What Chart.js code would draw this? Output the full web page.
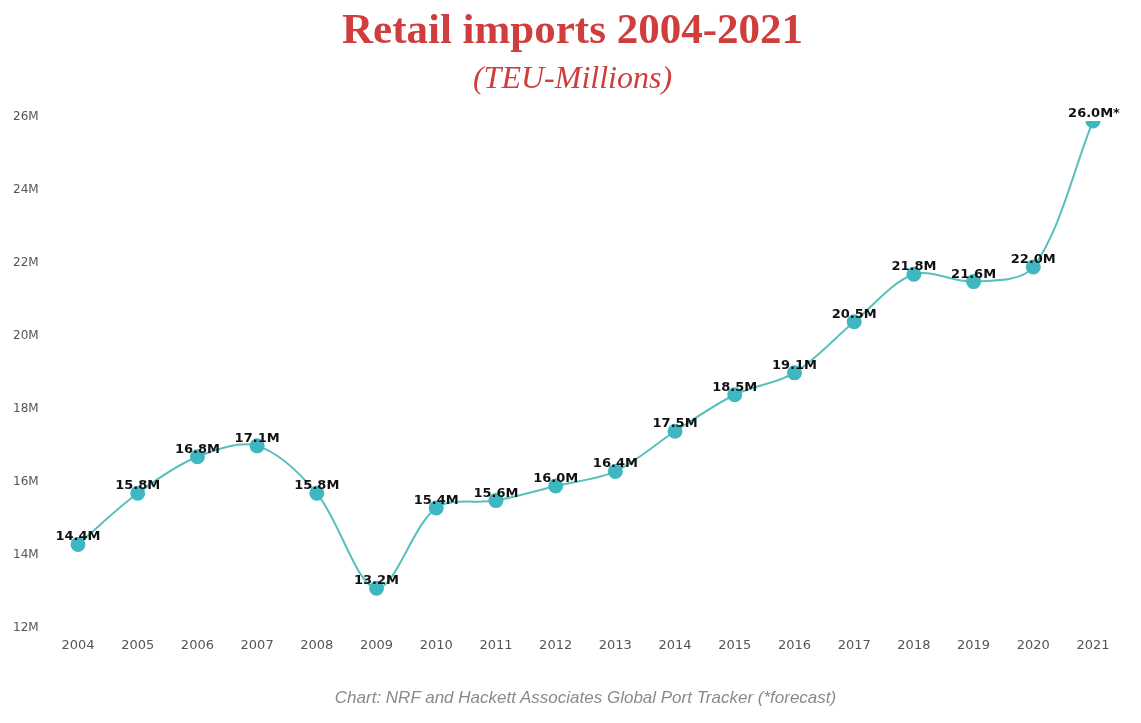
<!DOCTYPE html>
<html>
<head>
<meta charset="utf-8">
<script src="https://cdn.jsdelivr.net/npm/chart.js@4/dist/chart.umd.min.js"></script>
<style>
  html, body { margin: 0; padding: 0; background: #ffffff; }
  #wrap { position: relative; width: 1141px; height: 723px; overflow: hidden; }
  #c { position: absolute; left: 0; top: 0; }
  .t { position: absolute; left: 0; width: 1141px; text-align: center; white-space: nowrap; }
  #title { top: 7px; font: bold 43px/43px "Liberation Serif", "DejaVu Serif", serif; color: #cf3d3d; left: 2px; }
  #subtitle { top: 61px; font: italic 32px/32px "Liberation Serif", "DejaVu Serif", serif; color: #cf3d3d; left: 2px; }
  #footer { top: 689px; font: italic 17px/17px "Liberation Sans", Arial, sans-serif; color: #8a8a8a; left: 15px; }
</style>
</head>
<body>
<div id="wrap">
  <canvas id="c" width="1141" height="723"></canvas>
  <div class="t" id="title">Retail imports 2004-2021</div>
  <div class="t" id="subtitle">(TEU-Millions)</div>
  <div class="t" id="footer">Chart: NRF and Hackett Associates Global Port Tracker (*forecast)</div>
</div>
<script>
const years = ['2004','2005','2006','2007','2008','2009','2010','2011','2012','2013','2014','2015','2016','2017','2018','2019','2020','2021'];
const imports = [14.4, 15.8, 16.8, 17.1, 15.8, 13.2, 15.4, 15.6, 16.0, 16.4, 17.5, 18.5, 19.1, 20.5, 21.8, 21.6, 22.0, 26.0];
const forecast = [false,false,false,false,false,false,false,false,false,false,false,false,false,false,false,false,false,true];
const yTicks = [12, 14, 16, 18, 20, 22, 24, 26];

const labelPlugin = {
  id: 'pointLabels',
  afterDatasetsDraw(chart) {
    const ctx = chart.ctx;
    const meta = chart.getDatasetMeta(0);
    ctx.save();
    ctx.font = 'bold 13px "DejaVu Sans", sans-serif';
    ctx.fillStyle = '#111111';
    ctx.textAlign = 'center';
    ctx.textBaseline = 'alphabetic';
    meta.data.forEach((pt, i) => {
      const txt = imports[i].toFixed(1) + 'M' + (forecast[i] ? '*' : '');
      const dx = forecast[i] ? 1 : 0;
      ctx.fillText(txt, pt.x + dx, pt.y - 4);
    });
    ctx.restore();
  }
};

new Chart(document.getElementById('c'), {
  type: 'line',
  data: {
    labels: years,
    datasets: [{
      data: imports,
      borderColor: '#58c0bc',
      borderWidth: 2,
      backgroundColor: '#3fb7c1',
      pointBackgroundColor: '#3fb7c1',
      pointBorderColor: '#3fb7c1',
      pointRadius: 6.5,
      pointHoverRadius: 6.5,
      tension: 0.32,
      fill: false
    }]
  },
  options: {
    responsive: false,
    animation: false,
    devicePixelRatio: 1,
    layout: { padding: { top: 121, left: 13, right: 48, bottom: 61 } },
    plugins: { legend: { display: false }, tooltip: { enabled: false } },
    scales: {
      x: {
        offset: false,
        grid: { display: false, drawTicks: false },
        border: { display: false },
        ticks: { color: '#555555', font: { family: '"DejaVu Sans", sans-serif', size: 13 }, padding: 6, maxRotation: 0, autoSkip: false },
        afterFit(scale) { scale.height = 30; }
      },
      y: {
        min: 12, max: 26,
        grid: { display: false, drawTicks: false },
        border: { display: false },
        afterBuildTicks(scale) { scale.ticks = yTicks.map(v => ({ value: v })); },
        ticks: {
          color: '#555555',
          font: { family: '"DejaVu Sans", sans-serif', size: 12 },
          crossAlign: 'far',
          labelOffset: -4,
          callback: v => v + 'M'
        },
        afterFit(scale) { scale.width = 65; }
      }
    }
  },
  plugins: [labelPlugin]
});
</script>
</body>
</html>
